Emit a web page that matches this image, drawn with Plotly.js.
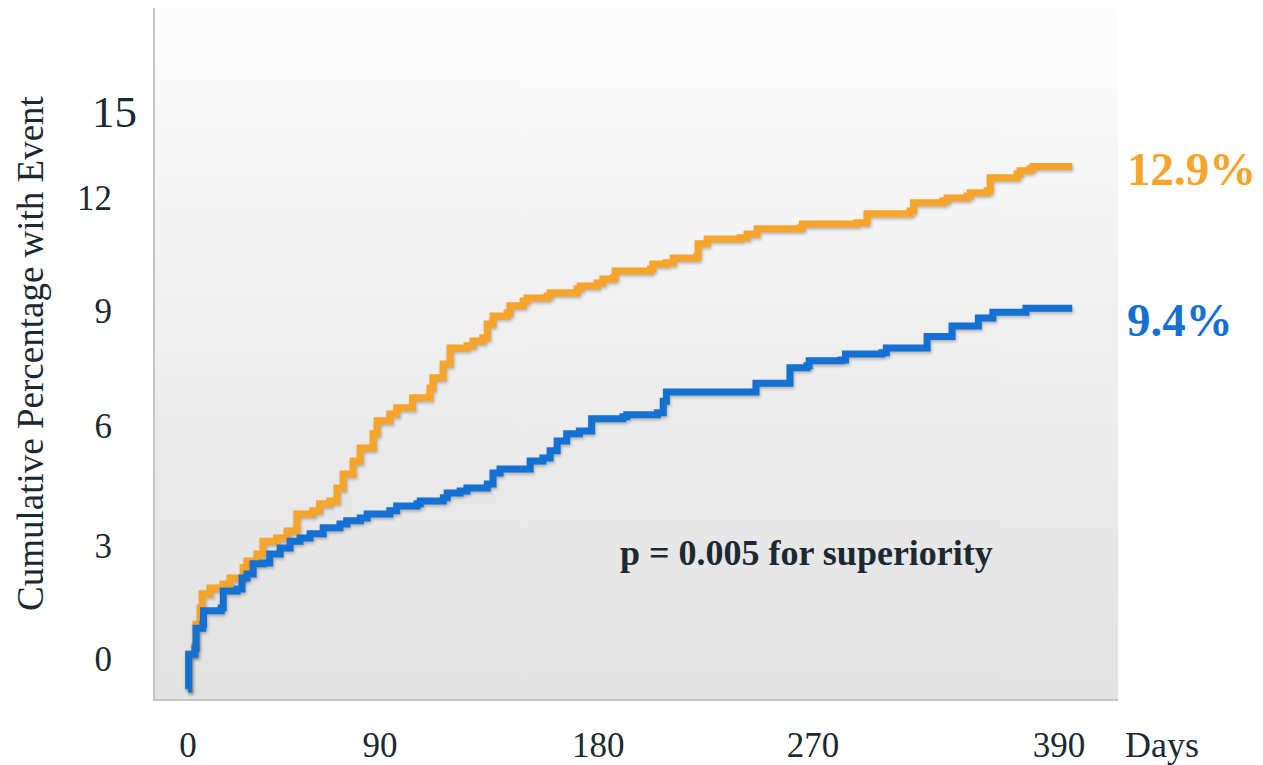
<!DOCTYPE html>
<html>
<head>
<meta charset="utf-8">
<script src="https://cdn.plot.ly/plotly-3.0.1.min.js"></script>
<style>
  html, body { margin: 0; padding: 0; background: #ffffff; }
  #chart { width: 1263px; height: 765px; }
  .scatterlayer .js-line { filter: drop-shadow(1px 2px 1.5px rgba(0,0,0,0.25)); }
</style>
</head>
<body>
<div id="chart"></div>
<script>
// ---- data ----
const orangeDays = [0, 0.3, 3, 3.5, 5.3, 6.2, 9.7, 15.4, 18.5, 24.3, 26, 30.4, 33, 39, 43.7, 48, 55, 58, 62.6, 65.7, 68.4, 72.8, 75.9, 81.6, 83.4, 89, 92, 99, 106.7, 108, 112.5, 115.6, 123, 125.7, 130, 132, 134.5, 140.7, 142, 147.8, 149.5, 158.4, 159.7, 171.6, 173, 180.4, 183, 187.5, 188.4, 204, 205, 211, 214, 224.5, 225, 229, 243.5, 246.6, 251, 270, 271, 295, 299.5, 318.5, 320, 333, 334.8, 343.6, 345, 352.5, 353.8, 365.7, 367, 371.4, 372.7, 390];
const orangePct  = [0, 0.86, 1.05, 1.6, 2.0, 2.35, 2.49, 2.59, 2.74, 2.99, 3.16, 3.33, 3.65, 3.73, 3.9, 4.32, 4.4, 4.57, 4.64, 4.96, 5.31, 5.63, 5.95, 6.3, 6.62, 6.79, 6.94, 7.19, 7.43, 7.68, 8.02, 8.42, 8.47, 8.59, 8.67, 9.01, 9.21, 9.28, 9.46, 9.58, 9.65, 9.70, 9.78, 9.88, 9.95, 10.02, 10.12, 10.15, 10.32, 10.37, 10.49, 10.52, 10.64, 10.69, 10.99, 11.11, 11.14, 11.23, 11.36, 11.38, 11.48, 11.51, 11.73, 11.80, 12.0, 12.05, 12.12, 12.17, 12.25, 12.30, 12.62, 12.72, 12.79, 12.84, 12.9, 12.9];

const blueDays = [0, 0.3, 3, 3.5, 6.5, 6.8, 14.6, 15.5, 21.6, 23.8, 26, 28.7, 33, 36, 40.6, 45, 49.4, 53.8, 59.6, 67, 70, 76, 79, 89, 92, 101, 102.4, 112.6, 114.3, 120, 123, 132, 134.5, 137.6, 150.9, 156.5, 159.7, 162.8, 167, 172.6, 178, 191.8, 193.5, 207, 209.6, 211, 250.5, 265.5, 273, 274, 288, 290, 306, 308, 326, 337, 348.6, 355, 369.6, 390];
const bluePct  = [0, 0.86, 1.0, 1.5, 1.6, 1.93, 2.0, 2.42, 2.47, 2.74, 2.84, 3.09, 3.11, 3.33, 3.48, 3.65, 3.73, 3.83, 3.98, 4.07, 4.15, 4.22, 4.32, 4.40, 4.52, 4.57, 4.64, 4.72, 4.84, 4.89, 4.96, 5.06, 5.33, 5.43, 5.63, 5.70, 5.88, 6.12, 6.30, 6.37, 6.67, 6.72, 6.77, 6.82, 7.1, 7.33, 7.55, 7.93, 7.98, 8.1, 8.12, 8.27, 8.3, 8.42, 8.7, 8.96, 9.16, 9.3, 9.4, 9.4];

const orangeLabel = "12.9%";
const blueLabel = "9.4%";
const pValueText = "p = 0.005 for superiority";

// tick labels (positions as drawn on the slide, in data units)
const xTickVals = [0, 84.7, 180.9, 275.7, 384.2];
const xTickText = ["0", "90", "180", "270", "390"];
const yTickVals = [0.74, 3.53, 6.49, 9.33, 12.12, 14.27];
const yTickText = ["0", "3", "6", "9", "12", "15"];
const xUnitLabel = "Days";
const yTitle = "Cumulative Percentage with Event";

// ---- styling ----
const ORANGE = "#F6A42A";
const BLUE = "#1570D3";
const TEXT = "#1b2a32";
const FONT = "Liberation Serif, Times New Roman, serif";

// gradient background for plot area
function gradientURL() {
  const c = document.createElement("canvas");
  c.width = 4; c.height = 256;
  const g = c.getContext("2d");
  const gr = g.createLinearGradient(0, 0, 0, 256);
  gr.addColorStop(0, "#fdfdfd");
  gr.addColorStop(0.35, "#f3f3f3");
  gr.addColorStop(0.7, "#e9e9e9");
  gr.addColorStop(1, "#e2e2e2");
  g.fillStyle = gr;
  g.fillRect(0, 0, 4, 256);
  return c.toDataURL("image/png");
}

const nMain = yTickVals.length - 1;

const traces = [
  { x: orangeDays, y: orangePct, type: "scatter", mode: "lines",
    line: { color: ORANGE, width: 7, shape: "hv" }, hoverinfo: "skip", showlegend: false },
  { x: blueDays, y: bluePct, type: "scatter", mode: "lines",
    line: { color: BLUE, width: 7, shape: "hv" }, hoverinfo: "skip", showlegend: false }
];

const yRange = [-0.247, 16.81];

const layout = {
  width: 1263, height: 765,
  margin: { l: 155, r: 145, t: 8, b: 66 },
  paper_bgcolor: "#ffffff",
  plot_bgcolor: "rgba(0,0,0,0)",
  showlegend: false,
  font: { family: FONT, color: TEXT },
  images: [{ source: gradientURL(), xref: "paper", yref: "paper", x: 0, y: 1,
             sizex: 1, sizey: 1, sizing: "stretch", layer: "below", xanchor: "left", yanchor: "top" }],
  xaxis: {
    range: [-14.6, 410.2], showgrid: false, zeroline: false,
    showline: true, linecolor: "#c4c4c4", linewidth: 2,
    tickmode: "array", tickvals: xTickVals, ticktext: xTickText,
    ticks: "", ticklabelstandoff: 14,
    tickfont: { family: FONT, size: 35, color: TEXT }
  },
  yaxis: {
    range: yRange, showgrid: false, zeroline: false,
    showline: true, linecolor: "#c4c4c4", linewidth: 2,
    tickmode: "array", tickvals: yTickVals.slice(0, nMain), ticktext: yTickText.slice(0, nMain),
    ticks: "", ticklabelstandoff: 34,
    tickfont: { family: FONT, size: 35, color: TEXT },
    title: { text: yTitle, font: { family: FONT, size: 37, color: TEXT }, standoff: 22 }
  },
  yaxis2: {
    overlaying: "y", side: "left", range: yRange, showgrid: false, zeroline: false,
    showline: false, tickmode: "array",
    tickvals: yTickVals.slice(nMain), ticktext: yTickText.slice(nMain),
    ticks: "", ticklabelstandoff: 17,
    tickfont: { family: FONT, size: 45, color: TEXT }
  },
  annotations: [
    { xref: "paper", yref: "y", x: 1.0768, y: orangePct[orangePct.length - 1], yshift: -3,
      text: "<b>" + orangeLabel + "</b>", showarrow: false, xanchor: "center", yanchor: "middle",
      font: { family: FONT, size: 47, color: ORANGE } },
    { xref: "paper", yref: "y", x: 1.064, y: bluePct[bluePct.length - 1], yshift: -12,
      text: "<b>" + blueLabel + "</b>", showarrow: false, xanchor: "center", yanchor: "middle",
      font: { family: FONT, size: 47, color: BLUE } },
    { xref: "x", yref: "y", x: 272.6, y: 3.36,
      text: "<b>" + pValueText + "</b>", showarrow: false, xanchor: "center", yanchor: "middle",
      font: { family: FONT, size: 36, color: TEXT } },
    { xref: "paper", yref: "paper", x: 1.0457, y: -0.0666,
      text: xUnitLabel, showarrow: false, xanchor: "center", yanchor: "middle",
      font: { family: FONT, size: 36, color: TEXT } }
  ]
};

// an invisible trace on yaxis2 so its tick renders
traces.push({ x: [0], y: [0], yaxis: "y2", type: "scatter", mode: "markers",
  marker: { opacity: 0 }, hoverinfo: "skip", showlegend: false });

Plotly.newPlot("chart", traces, layout, { staticPlot: true, displayModeBar: false });
</script>
</body>
</html>
